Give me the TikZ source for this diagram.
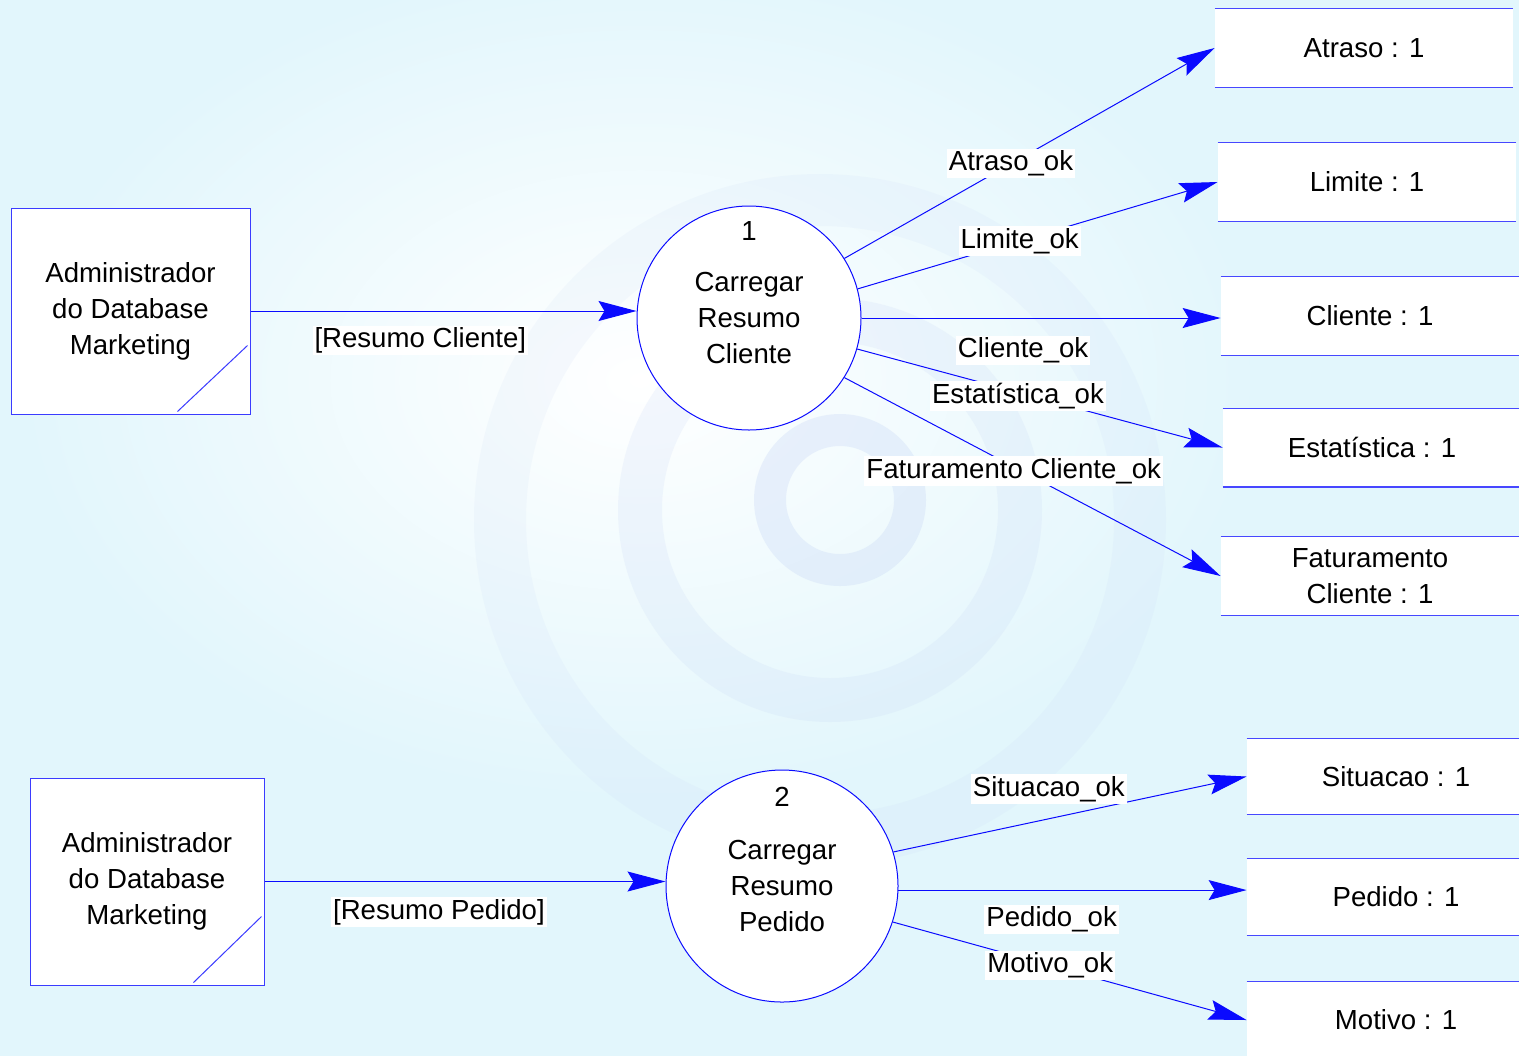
\documentclass[tikz,border=0pt]{standalone}
\usepackage{fontspec}
\setmainfont{Liberation Sans}
\usetikzlibrary{arrows.meta, calc}

\definecolor{bgcyan}{RGB}{226,246,252}
\definecolor{swirl}{RGB}{196,212,245}
\definecolor{dfdblue}{RGB}{10,10,255}

\begin{document}
\begin{tikzpicture}[x=0.5pt, y=-0.5pt, >={Stealth[length=19pt, width=10pt, inset=3pt]},
  every node/.style={font=\fontsize{13.8}{18}\selectfont, align=center},
  entity/.style={draw=dfdblue!80, fill=white, inner sep=0pt, line width=0.5pt},
  process/.style={draw=dfdblue, fill=white, circle, inner sep=0pt, line width=0.5pt},
  store/.style={fill=white, minimum width=149pt, minimum height=39pt, inner sep=0pt},
  storeline/.style={draw=dfdblue!75, line width=0.6pt},
  flow/.style={->, draw=dfdblue, line width=0.5pt},
  flowlabel/.style={fill=white, inner sep=1pt}]
  \useasboundingbox (0, 0) rectangle (1519, 1056);
  % background
  \fill[bgcyan] (0, 0) rectangle (1519, 1056);
  \shade[inner color=white, outer color=bgcyan] (640, 380) ellipse [x radius=620, y radius=420];
  \draw[swirl, line width=16pt, opacity=0.3] (840, 500) circle [radius=70];
  \draw[swirl, line width=22pt, opacity=0.18] (830, 510) circle [radius=190];
  \draw[swirl, line width=26pt, opacity=0.12] (820, 520) circle [radius=320];

  % external entities
  \node[entity, minimum width=119.5pt, minimum height=103pt] (admcli) at (130.5, 311) {Administrador\\do Database\\Marketing};
  \node[entity, minimum width=117pt, minimum height=103.5pt] (admped) at (147, 881.5) {Administrador\\do Database\\Marketing};
  \draw[dfdblue!80, line width=0.5pt] ($(admcli.south east) + (-73, -3)$) -- ($(admcli.south east) + (-3, -69)$);
  \draw[dfdblue!80, line width=0.5pt] ($(admped.south east) + (-71, -3)$) -- ($(admped.south east) + (-3, -69)$);

  % processes
  \node[process, minimum size=112pt, label={[anchor=north, yshift=-4.5pt]north:1}] (carcli) at (749, 318) {Carregar\\Resumo\\Cliente};
  \node[process, minimum size=116pt, label={[anchor=north, yshift=-5.5pt]north:2}] (carped) at (782, 886) {Carregar\\Resumo\\Pedido};

  % data stores
  \node[store] (atraso) at (1364, 48) {Atraso : 1};
  \node[store] (limite) at (1367, 182) {Limite : 1};
  \node[store] (cliente) at (1370, 316) {Cliente : 1};
  \node[store] (estat) at (1372, 447.5) {Estatística : 1};
  \node[store] (fatur) at (1370, 576) {Faturamento\\Cliente : 1};
  \node[store, minimum height=37.5pt] (situacao) at (1396, 776.5) {Situacao : 1};
  \node[store, minimum height=38pt] (pedido) at (1396, 897) {Pedido : 1};
  \node[store, minimum height=38pt] (motivo) at (1396, 1020) {Motivo : 1};
  \foreach \s in {atraso, limite, cliente, estat, fatur, situacao, pedido, motivo}
    \draw[storeline] (\s.north west) -- (\s.north east) (\s.south west) -- (\s.south east);

  % flows
  \draw[flow] (admcli.east) -- (admcli.east -| carcli.west) node[flowlabel, below=7pt, pos=0.44] {[Resumo Cliente]};
  \draw[flow] (carcli.32) -- (atraso.west) node[flowlabel, pos=0.45] {Atraso\_ok};
  \draw[flow] (carcli.15) -- (limite.west) node[flowlabel, pos=0.45] {Limite\_ok};
  \draw[flow] (carcli.east) -- (carcli.east -| cliente.west) node[flowlabel, below=8.5pt, pos=0.45] {Cliente\_ok};
  \draw[flow] (carcli.-16) -- (estat.west) node[flowlabel, pos=0.44, yshift=-2pt] {Estatística\_ok};
  \draw[flow] (carcli.-32) -- (fatur.west) node[flowlabel, pos=0.45, yshift=-2pt] {Faturamento Cliente\_ok};
  \draw[flow] (admped.east) -- (admped.east -| carped.west) node[flowlabel, below=7.5pt, pos=0.435] {[Resumo Pedido]};
  \draw[flow] (carped.17) -- (situacao.west) node[flowlabel, pos=0.44, yshift=15pt] {Situacao\_ok};
  \draw[flow] (carped.-2) -- (carped.-2 -| pedido.west) node[flowlabel, below=7pt, pos=0.44] {Pedido\_ok};
  \draw[flow] (carped.-18) -- (motivo.west) node[flowlabel, pos=0.445] {Motivo\_ok};
\end{tikzpicture}
\end{document}
